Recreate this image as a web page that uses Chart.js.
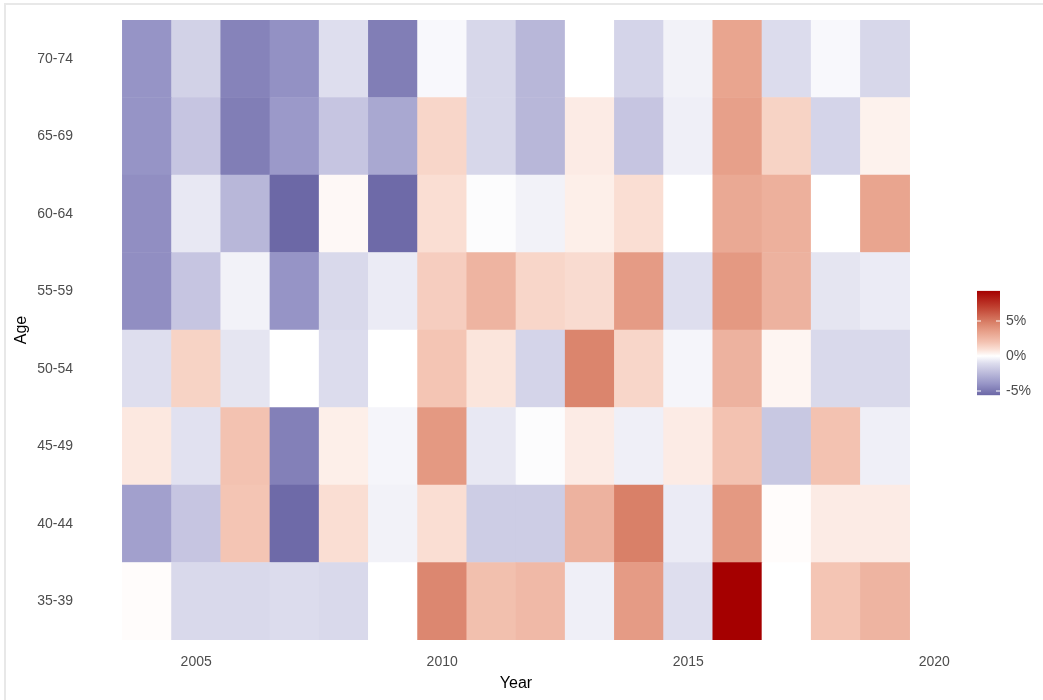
<!DOCTYPE html>
<html>
<head>
<meta charset="utf-8">
<script src="https://cdn.jsdelivr.net/npm/chart.js@4.4.1/dist/chart.umd.min.js"></script>
<style>
  body { margin: 0; background: #fff; }
  #marco { position: absolute; left: 4px; top: 3px; width: 1039px; height: 697px;
           border-top: 2px solid #e8e8e8; border-left: 2px solid #e8e8e8; box-sizing: border-box; }
  #lienzo { position: absolute; left: 0; top: 0; }
</style>
</head>
<body>
<div id="marco"></div>
<canvas id="lienzo" width="1043" height="700"></canvas>
<script>
// datos: variacion (%) por grupo de edad y año
const years = [2004, 2005, 2006, 2007, 2008, 2009, 2010, 2011, 2012, 2013, 2014, 2015, 2016, 2017, 2018, 2019];
const ages = ["35-39", "40-44", "45-49", "50-54", "55-59", "60-64", "65-69", "70-74"];
const xTicks = [2005, 2010, 2015, 2020];
const legendTicks = [-5, 0, 5];

const age3539 = [0.1, -1.2, -1.2, -1.1, -1.2, 0.0, 4.5, 2.1, 2.4, -0.5, 3.7, -1.0, 9.3, 0.0, 1.9, 2.6];
const age4044 = [-3.5, -2.0, 1.9, -5.5, 1.0, -0.4, 1.0, -1.7, -1.7, 2.7, 4.8, -0.6, 3.8, 0.1, 0.6, 0.6];
const age4549 = [0.7, -0.9, 2.0, -4.7, 0.5, -0.3, 3.8, -0.7, -0.1, 0.6, -0.5, 0.6, 2.0, -1.9, 2.0, -0.5];
const age5054 = [-1.0, 1.4, -0.8, 0.0, -1.1, 0.0, 1.9, 0.8, -1.4, 4.6, 1.3, -0.3, 2.7, 0.3, -1.2, -1.2];
const age5559 = [-4.2, -2.0, -0.4, -4.0, -1.2, -0.6, 1.6, 2.6, 1.3, 1.1, 3.7, -1.0, 3.8, 2.7, -0.8, -0.6];
const age6064 = [-4.2, -0.7, -2.6, -5.6, 0.2, -5.5, 1.0, -0.1, -0.4, 0.5, 1.0, 0.0, 3.1, 2.8, 0.0, 3.3];
const age6569 = [-4.0, -2.0, -4.8, -3.8, -2.0, -3.2, 1.3, -1.3, -2.6, 0.6, -2.0, -0.5, 3.5, 1.4, -1.4, 0.4];
const age7074 = [-4.0, -1.5, -4.6, -4.1, -1.0, -4.8, -0.2, -1.3, -2.6, 0.0, -1.4, -0.4, 3.3, -1.1, -0.2, -1.3];
const filas = [age3539, age4044, age4549, age5054, age5559, age6064, age6569, age7074];

// escala de color divergente (azul - blanco - rojo)
const paradas = [
    [-6.0, [100, 96, 160]],
    [-5.5, [110, 106, 168]],
    [-4.0, [150, 148, 198]],
    [-2.5, [186, 185, 218]],
    [-1.0, [222, 222, 238]],
    [0.0, [255, 255, 255]],
    [1.0, [250, 222, 211]],
    [2.0, [243, 194, 177]],
    [3.5, [231, 160, 138]],
    [4.8, [217, 128, 104]],
    [7.0, [192, 64, 48]],
    [9.3, [165, 0, 0]]
];
function colorDe(v) {
    if (v <= paradas[0][0]) return `rgb(${paradas[0][1].join(",")})`;
    for (let i = 1; i < paradas.length; i++) {
        const [v1, c1] = paradas[i];
        const [v0, c0] = paradas[i - 1];
        if (v <= v1) {
            const t = (v - v0) / (v1 - v0);
            const c = c0.map((x, k) => Math.round(x + (c1[k] - x) * t));
            return `rgb(${c.join(",")})`;
        }
    }
    return `rgb(${paradas[paradas.length - 1][1].join(",")})`;
}

const todos = filas.flat();
const minVal = Math.min(...todos);
const maxVal = Math.max(...todos);

// leyenda tipo barra de color (Chart.js no trae una)
const barraColor = {
    id: "barraColor",
    afterDraw(chart) {
        const ctx = chart.ctx;
        const x0 = 977, ancho = 23;
        const y = v => 356 - v * 7.0; // posicion vertical de cada valor
        const yTop = y(maxVal), yBot = y(minVal);
        const grad = ctx.createLinearGradient(0, yBot, 0, yTop);
        paradas.forEach(([v, c]) => {
            const t = (v - minVal) / (maxVal - minVal);
            if (t >= 0 && t <= 1) grad.addColorStop(t, `rgb(${c.join(",")})`);
        });
        grad.addColorStop(0, colorDe(minVal));
        grad.addColorStop(1, colorDe(maxVal));
        ctx.save();
        ctx.fillStyle = grad;
        ctx.fillRect(x0, yTop, ancho, yBot - yTop);
        ctx.strokeStyle = "#fff";
        ctx.lineWidth = 1;
        ctx.font = "14px 'Liberation Sans', Arial, sans-serif";
        ctx.fillStyle = "#4d4d4d";
        ctx.textBaseline = "middle";
        legendTicks.forEach(v => {
            const yy = y(v);
            ctx.beginPath();
            ctx.moveTo(x0, yy); ctx.lineTo(x0 + 4, yy);
            ctx.moveTo(x0 + ancho - 4, yy); ctx.lineTo(x0 + ancho, yy);
            ctx.stroke();
            ctx.fillText(v + "%", x0 + ancho + 6, yy);
        });
        ctx.restore();
    }
};

const datasets = ages.map((edad, i) => ({
    label: edad,
    data: years.map(yr => ({ x: yr, y: 1 })),
    backgroundColor: filas[i].map(colorDe),
    borderWidth: 0,
    barPercentage: 1,
    categoryPercentage: 1
}));

Chart.defaults.font.family = "'Liberation Sans', Arial, sans-serif";
new Chart(document.getElementById("lienzo"), {
    type: "bar",
    data: { datasets: datasets },
    plugins: [barraColor],
    options: {
        responsive: false,
        animation: false,
        layout: { padding: { top: 20, right: 94, left: 0, bottom: 0 } },
        plugins: { legend: { display: false }, tooltip: { enabled: false } },
        scales: {
            x: {
                type: "linear",
                stacked: true,
                offset: false,
                min: 2002.7,
                max: 2020.3,
                grid: { display: false, drawTicks: false },
                border: { display: false },
                afterBuildTicks: s => { s.ticks = xTicks.map(v => ({ value: v })); },
                afterFit: s => { s.height = 60; },
                ticks: { color: "#4d4d4d", font: { size: 14 }, padding: 14, maxRotation: 0, callback: v => String(v) },
                title: { display: true, text: "Year", color: "#000", font: { size: 16 }, padding: { top: 2, bottom: 7 } }
            },
            y: {
                stacked: true,
                min: 0,
                max: 8,
                grid: { display: false, drawTicks: false },
                border: { display: false },
                afterBuildTicks: s => { s.ticks = ages.map((a, i) => ({ value: i + 0.5 })); },
                afterFit: s => { s.width = 83; },
                ticks: { color: "#4d4d4d", font: { size: 14 }, padding: 10, callback: v => ages[Math.floor(v)] },
                title: { display: true, text: "Age", color: "#000", font: { size: 16 }, padding: { top: 12, bottom: 0 } }
            }
        }
    }
});
</script>
</body>
</html>
